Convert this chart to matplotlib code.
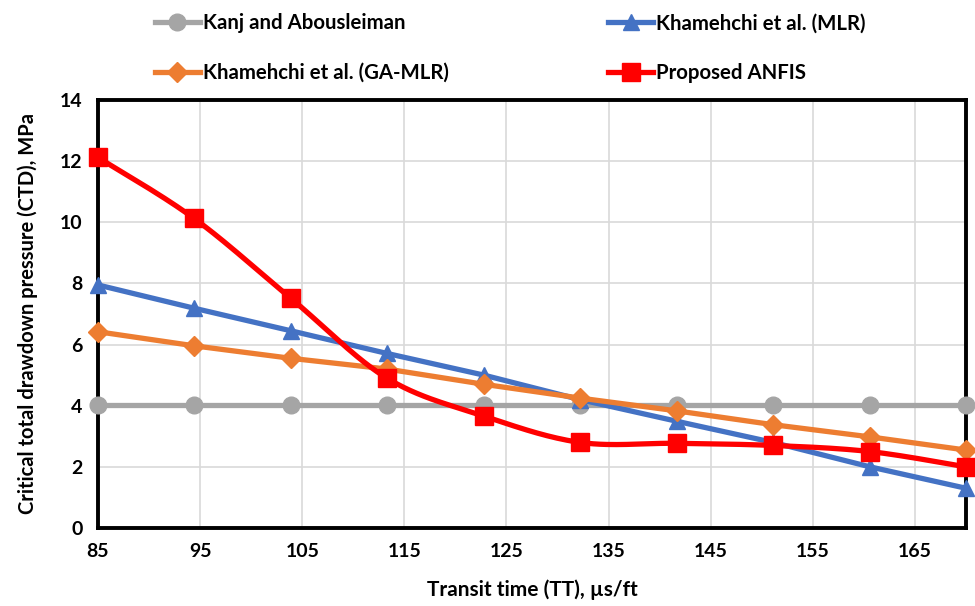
import numpy as np
import matplotlib
matplotlib.use("Agg")
import matplotlib.pyplot as plt

plt.rcParams['font.family'] = ['Lato', 'DejaVu Sans']
plt.rcParams['font.weight'] = 'bold'

# ---- data ----
tt = [85, 94.4, 103.9, 113.3, 122.8, 132.2, 141.7, 151.1, 160.6, 170]
kanj = [4.03, 4.03, 4.03, 4.03, 4.03, 4.03, 4.03, 4.03, 4.03, 4.03]
mlr = [7.95, 7.19, 6.45, 5.71, 5.0, 4.2, 3.49, 2.8, 2.0, 1.3]
ga_mlr = [6.42, 5.96, 5.55, 5.2, 4.7, 4.25, 3.83, 3.38, 2.98, 2.55]
anfis = [12.12, 10.13, 7.51, 4.9, 3.66, 2.8, 2.77, 2.7, 2.5, 2.0]

x_ticks = [85, 95, 105, 115, 125, 135, 145, 155, 165]
y_ticks = [0, 2, 4, 6, 8, 10, 12, 14]


def smooth(x, y, n=30):
    """Catmull-Rom style Bezier smoothing (like Excel 'smoothed line')."""
    x = np.asarray(x, float)
    y = np.asarray(y, float)
    px = np.concatenate([[x[0]], x, [x[-1]]])
    py = np.concatenate([[y[0]], y, [y[-1]]])
    xs, ys = [], []
    t = np.linspace(0, 1, n)
    for i in range(1, len(px) - 2):
        p0 = np.array([px[i], py[i]])
        p3 = np.array([px[i + 1], py[i + 1]])
        p1 = p0 + (np.array([px[i + 1], py[i + 1]]) - np.array([px[i - 1], py[i - 1]])) / 6
        p2 = p3 - (np.array([px[i + 2], py[i + 2]]) - np.array([px[i], py[i]])) / 6
        b = ((1 - t) ** 3)[:, None] * p0 + (3 * (1 - t) ** 2 * t)[:, None] * p1 \
            + (3 * (1 - t) * t ** 2)[:, None] * p2 + (t ** 3)[:, None] * p3
        xs.extend(b[:, 0])
        ys.extend(b[:, 1])
    return xs, ys


fig = plt.figure(figsize=(9.75, 6.06), dpi=100)
ax = fig.add_axes([0.1005, 0.1287, 0.8903, 0.7063])

lw = 3.8
ms = 12
c_gray, c_blue, c_orange, c_red = '#A5A5A5', '#4472C4', '#ED7D31', '#FF0000'

h1, = ax.plot(tt, kanj, color=c_gray, lw=lw, marker='o', ms=ms, clip_on=False, zorder=3,
              label='Kanj and Abousleiman')
h2, = ax.plot(tt, mlr, color=c_blue, lw=lw, marker='^', ms=ms, clip_on=False, zorder=4,
              label='Khamehchi et al. (MLR)')
h3, = ax.plot(tt, ga_mlr, color=c_orange, lw=lw, marker='D', ms=ms * 0.85, clip_on=False, zorder=5,
              label='Khamehchi et al. (GA-MLR)')
sx, sy = smooth(tt, anfis)
ax.plot(sx, sy, color=c_red, lw=lw, clip_on=False, zorder=6)
ax.plot(tt, anfis, color=c_red, lw=0, marker='s', ms=ms * 1.05, clip_on=False, zorder=6)
h4, = ax.plot([], [], color=c_red, lw=lw, marker='s', ms=ms * 1.05, label='Proposed ANFIS')

ax.set_xlim(85, 170)
ax.set_ylim(0, 14)
ax.set_xticks(x_ticks)
ax.set_yticks(y_ticks)
ax.grid(True, color='#D9D9D9', lw=1.2, zorder=0)
ax.set_axisbelow(True)
for s in ax.spines.values():
    s.set_linewidth(2.8)
    s.set_color('black')
ax.tick_params(length=0, labelsize=14, pad=11)
for lab in ax.get_xticklabels() + ax.get_yticklabels():
    lab.set_fontweight('bold')

ax.set_xlabel('Transit time (TT), µs/ft', fontsize=15, fontweight='bold', labelpad=14)
ax.set_ylabel('Critical total drawdown pressure (CTD), MPa', fontsize=14.5, fontweight='bold', labelpad=16)

fig.legend(handles=[h1, h3, h2, h4], ncol=2, loc='upper left', bbox_to_anchor=(0.159, 0.978),
           frameon=False, columnspacing=7.8, handlelength=2.2, handletextpad=0.15,
           labelspacing=1.45, borderaxespad=0, borderpad=0,
           prop={'weight': 'bold', 'size': 14.7})

fig.savefig('out.png', dpi=100)
